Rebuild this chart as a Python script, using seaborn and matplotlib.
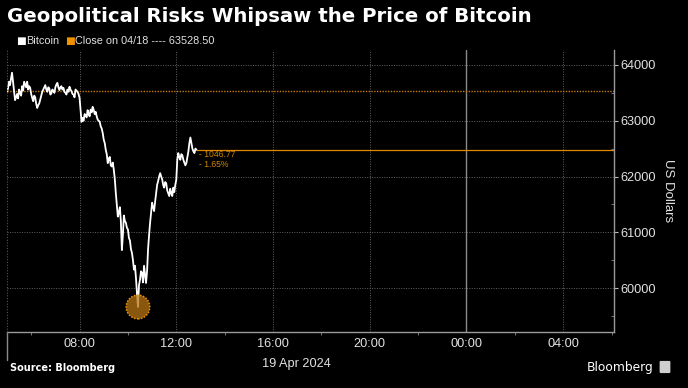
import numpy as np
import pandas as pd
import matplotlib.pyplot as plt
import matplotlib.dates as mdates
import seaborn as sns
from matplotlib.lines import Line2D
from matplotlib.patches import FancyBboxPatch

# Bitcoin price, 2.5-minute steps from 19 Apr 2024 05:00
btc_05h = [63520, 63580, 63700, 63640, 63760, 63860, 63700, 63550, 63370, 63420, 63480, 63400,
           63560, 63500, 63450, 63620, 63540, 63700, 63650, 63600, 63700, 63560, 63620, 63590]
btc_06h = [63480, 63410, 63350, 63450, 63420, 63300, 63230, 63280, 63310, 63380, 63450, 63520,
           63560, 63600, 63640, 63560, 63520, 63600, 63580, 63470, 63490, 63560, 63540, 63500]
btc_07h = [63600, 63650, 63680, 63600, 63550, 63600, 63620, 63560, 63590, 63520, 63500, 63470,
           63560, 63520, 63610, 63560, 63530, 63480, 63470, 63420, 63560, 63540, 63520, 63480]
btc_08h = [63410, 63200, 62980, 63050, 63000, 63120, 63100, 63060, 63190, 63120, 63080, 63200,
           63150, 63250, 63200, 63120, 63160, 63080, 63020, 63000, 62980, 62900, 62860, 62780]
btc_09h = [62660, 62600, 62480, 62400, 62240, 62320, 62350, 62200, 62180, 62250, 62120, 61950,
           61700, 61500, 61280, 61350, 61450, 61200, 60680, 60950, 61300, 61200, 61170, 61080]
btc_10h = [61050, 60900, 60850, 60700, 60630, 60500, 60330, 60400, 60180, 59900, 59660, 60050,
           60150, 60300, 60270, 60100, 60400, 60250, 60090, 60300, 60700, 60950, 61170, 61350]
btc_11h = [61530, 61450, 61380, 61550, 61700, 61850, 61920, 62000, 62060, 62000, 61950, 61850,
           61800, 61900, 61880, 61750, 61700, 61650, 61780, 61700, 61650, 61800, 61720, 61850]
btc_12h = [61940, 62300, 62420, 62350, 62300, 62400, 62380, 62300, 62250, 62200, 62240, 62350,
           62450, 62600, 62700, 62600, 62500, 62450, 62420, 62500, 62481.73]

prev_close = 63528.50
change_abs = "- 1046.77"
change_pct = "- 1.65%"

y_ticks = [60000, 61000, 62000, 63000, 64000]

prices = btc_05h + btc_06h + btc_07h + btc_08h + btc_09h + btc_10h + btc_11h + btc_12h
times = pd.date_range("2024-04-19 05:00", periods=len(prices), freq="150s")
df = pd.DataFrame({"time": times, "price": prices})

x_start = pd.Timestamp("2024-04-19 05:00")
x_end = pd.Timestamp("2024-04-20 06:06")

ORANGE = "#f39200"
GRID = "#626262"
TXT = "#e2e2e2"

sns.set_style("dark")
plt.rcParams["font.family"] = ["Liberation Sans", "DejaVu Sans"]

fig = plt.figure(figsize=(6.88, 3.88), dpi=100, facecolor="black")
ax = fig.add_axes([7/688, 56/388, 607/688, 282/388])
ax.set_facecolor("black")

# reference lines
ax.axhline(prev_close, color="#c07a10", lw=1, ls=(0, (1, 1)), zorder=2)
ax.hlines(prices[-1], times[-1], x_end, color="#e08800", lw=0.9, zorder=2)

sns.lineplot(data=df, x="time", y="price", color="white", lw=1.3, ax=ax, zorder=3)

# low point marker
i_min = int(np.argmin(prices))
ax.scatter([times[i_min]], [prices[i_min]], s=290, facecolor=(0.72, 0.46, 0.08, 0.75),
           edgecolor=ORANGE, linewidths=1.1, linestyle=(0, (1, 1)), zorder=4)

# change labels
ax.annotate(change_abs, (times[-1], prices[-1]), xytext=(2, -3.8), textcoords="offset points",
            color="#d08400", fontsize=6.2, va="center", ha="left")
ax.annotate(change_pct, (times[-1], prices[-1]), xytext=(2, -10.4), textcoords="offset points",
            color="#d08400", fontsize=6.2, va="center", ha="left")

ax.set_xlim(x_start, x_end)
ax.set_ylim(59211, 64269)

# axes styling
ax.yaxis.tick_right()
ax.set_yticks(y_ticks)
ax.set_yticklabels([str(v) for v in y_ticks])
ax.yaxis.set_minor_locator(plt.MultipleLocator(500))
ax.xaxis.set_major_locator(mdates.HourLocator(byhour=[0, 4, 8, 12, 16, 20]))
ax.xaxis.set_major_formatter(mdates.DateFormatter("%H:%M"))
ax.xaxis.set_minor_locator(mdates.HourLocator(byhour=[2, 6, 10, 14, 18, 22]))

ax.tick_params(axis="y", which="major", right=True, left=False, direction="out", length=3,
               color="#bbbbbb", labelcolor=TXT, labelsize=9.2, pad=1.5)
ax.tick_params(axis="y", which="minor", right=True, left=False, direction="in", length=2.5,
               color="#888888")
ax.tick_params(axis="x", which="major", bottom=True, length=0, labelcolor=TXT,
               labelsize=9.2, pad=4)
ax.tick_params(axis="x", which="minor", bottom=True, direction="out", length=2,
               color="#888888")

for s in ["top", "left"]:
    ax.spines[s].set_visible(False)
for s in ["right", "bottom"]:
    ax.spines[s].set_visible(True)
    ax.spines[s].set_color("#9a9a9a")
    ax.spines[s].set_linewidth(1)

ax.grid(True, which="major", color=GRID, ls=(0, (1, 1.5)), lw=0.7)
ax.set_axisbelow(True)

# day separator
ax.axvline(pd.Timestamp("2024-04-20 00:00"), color="#8a8a8a", lw=1, zorder=1)

ax.set_xlabel("")
ax.set_ylabel("US Dollars", color=TXT, fontsize=9.5, rotation=270, labelpad=13)
ax.yaxis.set_label_position("right")

# left date bracket line
fig.add_artist(Line2D([7/688, 7/688], [(388-360)/388, (388-332)/388], color="#8a8a8a", lw=1,
                      transform=fig.transFigure))
fig.add_artist(Line2D([7/688, 7/688], [(388-332)/388, (388-50)/388], color="#555555", lw=0.8,
                      ls=(0, (1, 1.5)), transform=fig.transFigure))
fig.text(296/688, (388-364)/388, "19 Apr 2024", color=TXT, fontsize=9.2,
         ha="center", va="center")

# title and legend
fig.text(7/688, (388-16)/388, "Geopolitical Risks Whipsaw the Price of Bitcoin",
         color="white", fontsize=14.2, fontweight="bold", family="DejaVu Sans",
         ha="left", va="center")
fig.text(16/688, (388-41)/388, "■", color="white", fontsize=7.5, ha="left", va="center",
         family="DejaVu Sans")
fig.text(26/688, (388-41)/388, "Bitcoin", color=TXT, fontsize=7.8, ha="left", va="center")
fig.text(65/688, (388-41)/388, "■", color=ORANGE, fontsize=7.5, ha="left", va="center",
         family="DejaVu Sans")
fig.text(75/688, (388-41)/388, "Close on 04/18 ---- 63528.50", color=TXT, fontsize=7.8,
         ha="left", va="center")

# footer
fig.text(10/688, (388-368)/388, "Source: Bloomberg", color="white", fontsize=7,
         fontweight="bold", family="DejaVu Sans", ha="left", va="center")
fig.text(654/688, (388-367)/388, "Bloomberg", color="white", fontsize=8.8, ha="right",
         va="center", family="DejaVu Sans")
fig.add_artist(FancyBboxPatch((661/688, (388-372)/388), 8/688, 10/388,
                              boxstyle="round,pad=0.001", color="#cfcfcf",
                              transform=fig.transFigure))

fig.savefig("out.png", dpi=100, facecolor="black")
